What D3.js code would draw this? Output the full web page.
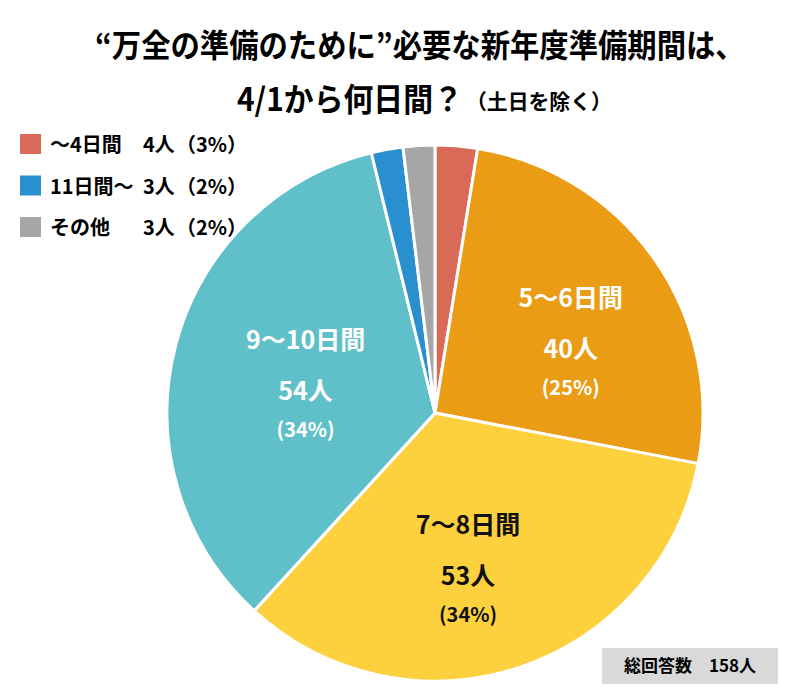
<!DOCTYPE html>
<html>
<head>
<meta charset="utf-8">
<script src="https://cdn.jsdelivr.net/npm/d3@7"></script>
<style>
  body { margin: 0; background: #fff; }
  text { font-family: "Noto Sans CJK JP", "Noto Sans", sans-serif; font-weight: 700; }
</style>
</head>
<body>
<div id="chart"></div>
<script>

// Data
const categories = ["～4日間", "5～6日間", "7～8日間", "9～10日間", "11日間～", "その他"];
const counts = [4, 40, 53, 54, 3, 3];
const percents = ["3%", "25%", "34%", "34%", "2%", "2%"];
const colours = ["#d96a58", "#ea9c14", "#fdd03e", "#60c0c9", "#2a8fcf", "#a6a6a6"];
const legendItems = ["～4日間", "11日間～", "その他"];
const totalLabel = "総回答数　158人";

const width = 800, height = 700;
const cx = 435, cy = 413, radius = 268;

const svg = d3.select("#chart")
    .append("svg")
    .attr("width", width)
    .attr("height", height);

// Title (condensed heavy type, squeezed horizontally to fit)
function squeezed(text, x, y, size, targetWidth) {
    const t = svg.append("text")
        .attr("font-size", size).attr("font-weight", 900)
        .text(text);
    const w = t.node().getComputedTextLength();
    t.attr("transform", `translate(${x}, ${y}) scale(${targetWidth / w}, 1)`);
    return t;
}
squeezed("“万全の準備のために”必要な新年度準備期間は、", 95, 57, 32, 650);
squeezed("4/1から何日間？", 237, 111, 32, 226);
squeezed("（土日を除く）", 466, 109, 21, 146);

// Pie
const pie = d3.pie().sort(null).value((d) => d.count);
const arc = d3.arc().innerRadius(0).outerRadius(radius);
const rows = categories.map((c, i) => ({ name: c, count: counts[i], pct: percents[i], colour: colours[i] }));
const arcs = pie(rows);

const g = svg.append("g").attr("transform", `translate(${cx}, ${cy})`);
g.selectAll("path")
    .data(arcs)
    .enter()
    .append("path")
    .attr("d", arc)
    .attr("fill", (d) => d.data.colour)
    .attr("stroke", "#fff")
    .attr("stroke-width", 3);

// Labels inside the three big slices (nudged off the centroid like the original)
const angleNudge = { "5～6日間": 0.17, "7～8日間": 0.12, "9～10日間": -0.08 };
const radiusShare = { "5～6日間": 0.56, "7～8日間": 0.62, "9～10日間": 0.49 };
const big = arcs.filter((d) => d.data.count > 10);
const lab = g.selectAll(".lab")
    .data(big)
    .enter()
    .append("g")
    .attr("class", "lab")
    .attr("transform", (d) => {
        const a = (d.startAngle + d.endAngle) / 2 + angleNudge[d.data.name];
        const r = radius * radiusShare[d.data.name];
        return `translate(${r * Math.sin(a)}, ${-r * Math.cos(a)})`;
    });
lab.attr("fill", (d) => d.data.name === "7～8日間" ? "#111" : "#fff")
    .attr("text-anchor", "middle");
lab.append("text").attr("y", -42).attr("font-size", 25).text((d) => d.data.name);
lab.append("text").attr("y", 9).attr("font-size", 25).text((d) => d.data.count + "人");
lab.append("text").attr("y", 46).attr("font-size", 20).text((d) => "(" + d.data.pct + ")");

// Legend
const legendRows = legendItems.map((n) => rows.find((r) => r.name === n));
const lg = svg.selectAll(".legend")
    .data(legendRows)
    .enter()
    .append("g")
    .attr("class", "legend")
    .attr("transform", (d, i) => `translate(20, ${134 + i * 41.5})`);
lg.append("rect").attr("width", 21).attr("height", 20).attr("fill", (d) => d.colour);
lg.append("text").attr("x", 30).attr("y", 18).attr("font-size", 20).text((d) => d.name);
lg.append("text").attr("x", 123).attr("y", 18).attr("font-size", 20).text((d) => d.count + "人");
lg.append("text").attr("x", 156).attr("y", 18).attr("font-size", 20).text((d) => "（" + d.pct + "）");

// Total box
svg.append("rect")
    .attr("x", 602).attr("y", 648)
    .attr("width", 176).attr("height", 36)
    .attr("fill", "#d9d9d9");
svg.append("text")
    .attr("x", 690).attr("y", 672)
    .attr("text-anchor", "middle")
    .attr("font-size", 17)
    .text(totalLabel);
</script>
</body>
</html>
